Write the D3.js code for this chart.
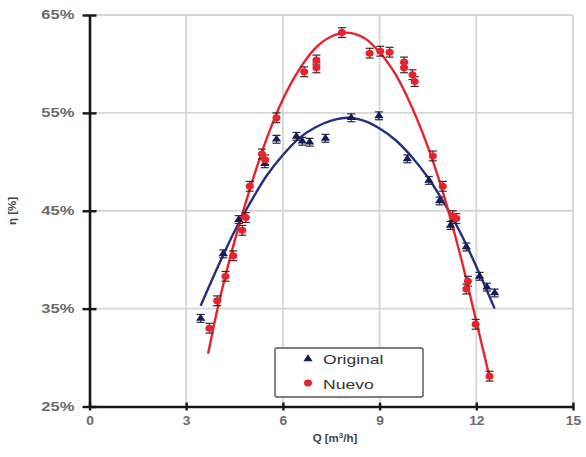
<!DOCTYPE html>
<html><head><meta charset="utf-8">
<script src="https://cdn.jsdelivr.net/npm/d3@7"></script>
<style>body{margin:0;background:#fff;} svg{display:block;font-family:"Liberation Sans",Arial,sans-serif;}</style>
</head><body><svg id="c" width="586" height="457"></svg>
<script>
// ---- data ----
const xTicks = [0, 3, 6, 9, 12, 15];
const yTicks = [25, 35, 45, 55, 65];
const seriesNames = ["Original", "Nuevo"];
const origQ   = [3.45,4.15,4.63,5.44,5.80,6.42,6.60,6.83,7.32,8.12,8.98,9.86,10.53,10.86,11.20,11.69,12.10,12.33,12.57];
const origEta = [34.0,40.6,44.1,49.8,52.3,52.6,52.1,52.0,52.4,54.5,54.7,50.3,48.1,46.0,43.5,41.3,38.3,37.2,36.6];
const nuevoQ   = [3.72,3.96,4.22,4.46,4.74,4.85,4.97,5.35,5.45,5.80,6.66,7.04,7.04,7.83,8.69,9.02,9.31,9.76,9.76,10.02,10.09,10.65,10.96,11.27,11.38,11.69,11.74,11.98,12.41];
const nuevoEta = [33.0,35.8,38.3,40.4,43.0,44.3,47.5,50.8,50.2,54.5,59.2,60.4,59.6,63.2,61.1,61.3,61.2,60.2,59.6,58.9,58.2,50.6,47.5,44.5,44.2,37.0,37.8,33.4,28.1];
const origErr = 0.4;
const nuevoErr = 0.5;
// trend lines
const origTrendQ   = [3.45,4.0,4.5,5.0,5.5,6.0,6.5,7.0,7.5,8.0,8.5,9.0,9.5,10.0,10.5,11.0,11.5,12.0,12.57];
const origTrendEta = [35.3,39.4,42.9,45.9,48.6,50.7,52.4,53.5,54.2,54.5,54.2,53.4,52.2,50.5,48.4,45.8,42.8,39.3,35.0];
const nuevoTrendQ   = [3.68,4.0,4.5,5.0,5.5,6.0,6.5,7.0,7.5,7.95,8.5,9.0,9.5,10.0,10.5,11.0,11.5,12.0,12.41];
const nuevoTrendEta = [30.4,35.4,41.9,47.5,52.4,56.4,59.4,61.6,62.8,63.2,62.7,61.2,58.9,55.6,51.5,46.5,40.5,33.7,28.0];

const svg = d3.select("#c");
const x = d3.scaleLinear().domain([0, 15]).range([89.5, 573]);
const y = d3.scaleLinear().domain([25, 65]).range([406.5, 15]);

function stretch(sel, f) {
  sel.each(function () {
    const l = this.getComputedTextLength();
    d3.select(this).attr("textLength", l * f).attr("lengthAdjust", "spacingAndGlyphs");
  });
}

// grid
svg.append("g").selectAll("line").data(xTicks.filter(d => d > 0)).join("line")
  .attr("x1", d => x(d)).attr("x2", d => x(d)).attr("y1", y(65)).attr("y2", y(25))
  .attr("stroke", "#d4d6d8").attr("stroke-width", 1.8);
svg.append("g").selectAll("line").data(yTicks.filter(d => d > 25)).join("line")
  .attr("x1", x(0)).attr("x2", x(15)).attr("y1", d => y(d)).attr("y2", d => y(d))
  .attr("stroke", "#d4d6d8").attr("stroke-width", 1.8);

// axes
const xAxis = d3.axisBottom(x).tickValues(xTicks).tickSizeInner(0).tickSizeOuter(0).tickPadding(10);
const gx = svg.append("g").attr("transform", `translate(0,${y(25)})`).call(xAxis);
gx.select(".domain").attr("stroke", "#15171c").attr("stroke-width", 2.6);
gx.selectAll(".tick text").attr("fill", "#6b6b6b").attr("font-size", 12).attr("font-weight", "bold").call(stretch, 1.15);
gx.selectAll(".tick").append("line").attr("y1", -4).attr("y2", 4).attr("stroke", "#15171c").attr("stroke-width", 2.4);

const yAxis = d3.axisLeft(y).tickValues(yTicks).tickFormat(d => d + "%").tickSizeInner(0).tickSizeOuter(0).tickPadding(15);
const gy = svg.append("g").attr("transform", `translate(${x(0)},0)`).call(yAxis);
gy.select(".domain").attr("stroke", "#15171c").attr("stroke-width", 2.6);
gy.selectAll(".tick text").attr("fill", "#6b6b6b").attr("font-size", 12).attr("font-weight", "bold").call(stretch, 1.38);
gy.selectAll(".tick").append("line").attr("x1", -7).attr("x2", 7).attr("stroke", "#15171c").attr("stroke-width", 2.4);

// axis titles
const xt = svg.append("text").attr("x", 335).attr("y", 442).attr("text-anchor", "middle")
  .attr("font-size", 11.5).attr("font-weight", "bold").attr("fill", "#444");
xt.append("tspan").text("Q [m");
xt.append("tspan").attr("dy", -4).attr("font-size", 8).text("3");
xt.append("tspan").attr("dy", 4).text("/h]");
svg.append("text").attr("transform", "translate(16,211) rotate(-90)").attr("text-anchor", "middle")
  .attr("font-size", 11.5).attr("font-weight", "bold").attr("fill", "#444").text("η [%]");

const red = "#e8232b";
const line = d3.line().x(d => x(d[0])).y(d => y(d[1])).curve(d3.curveCatmullRom);

function errorBars(Q, E, err, col) {
  const g = svg.append("g").attr("stroke", col).attr("stroke-width", 1.2);
  Q.forEach((q, i) => {
    g.append("line").attr("x1", x(q)).attr("x2", x(q)).attr("y1", y(E[i] - err)).attr("y2", y(E[i] + err));
    g.append("line").attr("x1", x(q) - 4).attr("x2", x(q) + 4).attr("y1", y(E[i] - err)).attr("y2", y(E[i] - err));
    g.append("line").attr("x1", x(q) - 4).attr("x2", x(q) + 4).attr("y1", y(E[i] + err)).attr("y2", y(E[i] + err));
  });
}

// trend lines
svg.append("path").datum(origTrendQ.map((q, i) => [q, origTrendEta[i]])).attr("d", line)
  .attr("fill", "none").attr("stroke", "#23307f").attr("stroke-width", 2.4);
svg.append("path").datum(nuevoTrendQ.map((q, i) => [q, nuevoTrendEta[i]])).attr("d", line)
  .attr("fill", "none").attr("stroke", red).attr("stroke-width", 2.4);

// error bars + markers
errorBars(origQ, origEta, origErr, "#2a2a3a");
errorBars(nuevoQ, nuevoEta, nuevoErr, "#3a2a2a");
const tri = d3.symbol().type(d3.symbolTriangle).size(28);
svg.append("g").selectAll("path").data(origQ.map((q, i) => [q, origEta[i]])).join("path")
  .attr("d", tri).attr("transform", d => `translate(${x(d[0])},${y(d[1])}) scale(1.15,1)`).attr("fill", "#141d5c");
svg.append("g").selectAll("ellipse").data(nuevoQ.map((q, i) => [q, nuevoEta[i]])).join("ellipse")
  .attr("cx", d => x(d[0])).attr("cy", d => y(d[1])).attr("rx", 4).attr("ry", 3.5).attr("fill", red);

// legend
const lg = svg.append("g");
lg.append("rect").attr("x", 275).attr("y", 348).attr("width", 148).attr("height", 49)
  .attr("fill", "#fff").attr("stroke", "#555").attr("stroke-width", 1.4).attr("rx", 2);
lg.append("path").attr("d", tri).attr("transform", "translate(308,359) scale(1.15,1)").attr("fill", "#141d5c");
lg.append("ellipse").attr("cx", 308).attr("cy", 383).attr("rx", 4).attr("ry", 3.4).attr("fill", red);
lg.selectAll("text").data(seriesNames).join("text")
  .attr("x", 323).attr("y", (d, i) => 364 + i * 25)
  .attr("font-size", 13.5).attr("fill", "#333").text(d => d).call(stretch, 1.3);
</script></body></html>
